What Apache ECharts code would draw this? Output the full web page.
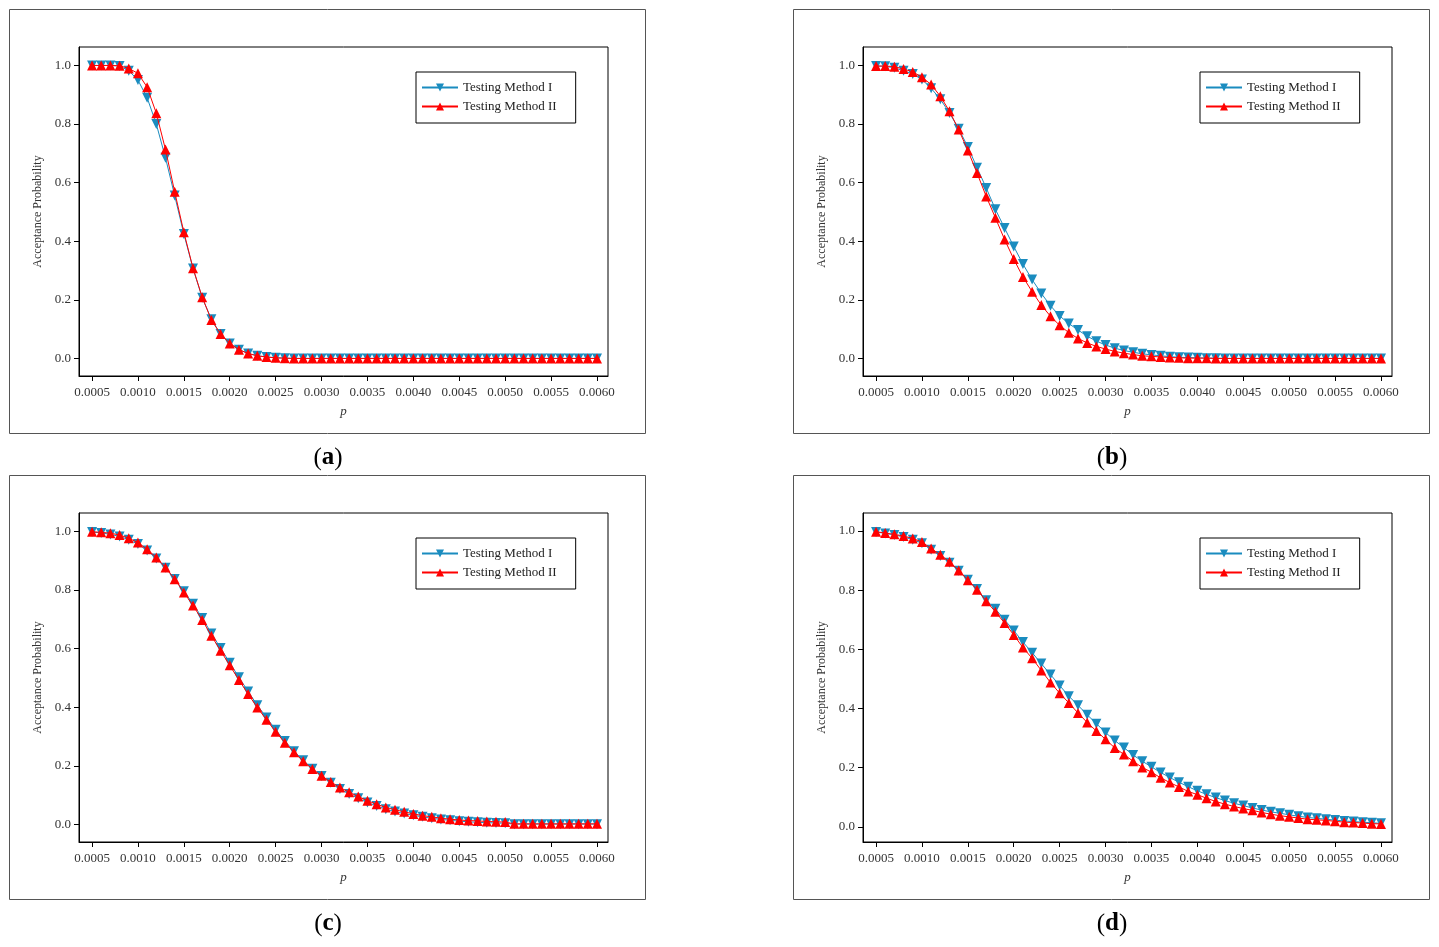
<!DOCTYPE html>
<html>
<head>
<meta charset="utf-8">
<title>Acceptance Probability</title>
<script src="https://cdn.jsdelivr.net/npm/echarts@6/dist/echarts.min.js"></script>
<style>
    html, body {margin: 0; padding: 0; background: #ffffff;}
    #main {width: 1439px; height: 947px;}
</style>
</head>
<body>
<div id="main"></div>
<script>
// p values on the x axis
var pValues = [0.0005, 0.0006, 0.0007, 0.0008, 0.0009, 0.0010, 0.0011, 0.0012, 0.0013, 0.0014,
    0.0015, 0.0016, 0.0017, 0.0018, 0.0019, 0.0020, 0.0021, 0.0022, 0.0023, 0.0024,
    0.0025, 0.0026, 0.0027, 0.0028, 0.0029, 0.0030, 0.0031, 0.0032, 0.0033, 0.0034,
    0.0035, 0.0036, 0.0037, 0.0038, 0.0039, 0.0040, 0.0041, 0.0042, 0.0043, 0.0044,
    0.0045, 0.0046, 0.0047, 0.0048, 0.0049, 0.0050, 0.0051, 0.0052, 0.0053, 0.0054,
    0.0055, 0.0056, 0.0057, 0.0058, 0.0059, 0.0060];

var xTicks = [0.0005, 0.0010, 0.0015, 0.0020, 0.0025, 0.0030, 0.0035, 0.0040, 0.0045, 0.0050, 0.0055, 0.0060];
var yTicks = [0.0, 0.2, 0.4, 0.6, 0.8, 1.0];
var seriesNames = ['Testing Method I', 'Testing Method II'];
var panelLabels = ['a', 'b', 'c', 'd'];

// (a)
var methodIa = [1.000, 1.000, 1.000, 0.998, 0.982, 0.950, 0.890, 0.800, 0.685, 0.556,
    0.425, 0.307, 0.207, 0.134, 0.083, 0.051, 0.030, 0.017, 0.009, 0.005,
    0.002, 0.001, 0, 0, 0, 0, 0, 0, 0, 0,
    0, 0, 0, 0, 0, 0, 0, 0, 0, 0,
    0, 0, 0, 0, 0, 0, 0, 0, 0, 0,
    0, 0, 0, 0, 0, 0];
var methodIIa = [1.000, 1.000, 1.000, 0.999, 0.990, 0.973, 0.926, 0.837, 0.713, 0.569,
    0.431, 0.308, 0.209, 0.131, 0.083, 0.051, 0.030, 0.017, 0.009, 0.005,
    0.002, 0.001, 0, 0, 0, 0, 0, 0, 0, 0,
    0, 0, 0, 0, 0, 0, 0, 0, 0, 0,
    0, 0, 0, 0, 0, 0, 0, 0, 0, 0,
    0, 0, 0, 0, 0, 0];

// (b)
var methodIb = [0.998, 0.997, 0.992, 0.982, 0.971, 0.952, 0.922, 0.885, 0.838, 0.784,
    0.722, 0.651, 0.582, 0.509, 0.445, 0.382, 0.322, 0.269, 0.222, 0.180,
    0.145, 0.119, 0.097, 0.076, 0.059, 0.046, 0.035, 0.027, 0.021, 0.016,
    0.012, 0.009, 0.006, 0.004, 0.003, 0.002, 0.001, 0.001, 0, 0,
    0, 0, 0, 0, 0, 0, 0, 0, 0, 0,
    0, 0, 0, 0, 0, 0];
var methodIIb = [0.998, 0.998, 0.996, 0.988, 0.978, 0.960, 0.935, 0.895, 0.844, 0.781,
    0.710, 0.633, 0.553, 0.480, 0.406, 0.339, 0.278, 0.228, 0.182, 0.144,
    0.113, 0.088, 0.068, 0.053, 0.041, 0.032, 0.024, 0.018, 0.013, 0.009,
    0.007, 0.005, 0.003, 0.002, 0.001, 0.001, 0.001, 0, 0, 0,
    0, 0, 0, 0, 0, 0, 0, 0, 0, 0,
    0, 0, 0, 0, 0, 0];

// (c)
var methodIc = [0.998, 0.995, 0.990, 0.983, 0.972, 0.957, 0.935, 0.908, 0.876, 0.838,
    0.796, 0.753, 0.705, 0.652, 0.602, 0.552, 0.502, 0.454, 0.407, 0.365,
    0.323, 0.285, 0.250, 0.219, 0.190, 0.165, 0.142, 0.121, 0.104, 0.089,
    0.075, 0.063, 0.052, 0.044, 0.037, 0.031, 0.026, 0.021, 0.017, 0.014,
    0.011, 0.009, 0.007, 0.006, 0.005, 0.004, 0.001, 0.001, 0.001, 0.001,
    0.001, 0.001, 0.001, 0.001, 0.001, 0.001];
var methodIIc = [0.999, 0.997, 0.994, 0.988, 0.977, 0.962, 0.939, 0.911, 0.877, 0.837,
    0.792, 0.747, 0.698, 0.644, 0.593, 0.543, 0.493, 0.445, 0.399, 0.357,
    0.316, 0.279, 0.246, 0.216, 0.189, 0.166, 0.145, 0.126, 0.110, 0.095,
    0.081, 0.069, 0.058, 0.050, 0.043, 0.036, 0.030, 0.026, 0.021, 0.018,
    0.015, 0.013, 0.012, 0.010, 0.009, 0.008, 0.002, 0.002, 0.002, 0.002,
    0.002, 0.002, 0.002, 0.002, 0.002, 0.002];

// (d)
var methodId = [0.997, 0.992, 0.987, 0.980, 0.971, 0.959, 0.937, 0.916, 0.893, 0.866,
    0.835, 0.804, 0.766, 0.737, 0.700, 0.664, 0.625, 0.589, 0.552, 0.515,
    0.478, 0.442, 0.411, 0.379, 0.349, 0.319, 0.292, 0.268, 0.243, 0.222,
    0.203, 0.184, 0.167, 0.151, 0.136, 0.122, 0.110, 0.099, 0.089, 0.080,
    0.072, 0.064, 0.057, 0.051, 0.046, 0.041, 0.036, 0.032, 0.029, 0.026,
    0.023, 0.020, 0.018, 0.016, 0.014, 0.012];
var methodIId = [0.998, 0.993, 0.989, 0.983, 0.975, 0.963, 0.941, 0.920, 0.896, 0.867,
    0.834, 0.802, 0.763, 0.727, 0.689, 0.649, 0.606, 0.570, 0.529, 0.488,
    0.452, 0.419, 0.385, 0.353, 0.324, 0.296, 0.267, 0.245, 0.222, 0.201,
    0.185, 0.166, 0.150, 0.135, 0.120, 0.109, 0.097, 0.086, 0.077, 0.069,
    0.062, 0.056, 0.049, 0.043, 0.038, 0.034, 0.030, 0.026, 0.024, 0.022,
    0.019, 0.016, 0.015, 0.013, 0.011, 0.010];

var panelData = [
    [methodIa, methodIIa],
    [methodIb, methodIIb],
    [methodIc, methodIIc],
    [methodId, methodIId]
];

var myChart = echarts.init(document.getElementById('main'));

// layout of the four panels
var panels = [
    {left: 79, top: 47, frameX: 9.5, frameY: 9.5, labelX: 328, labelY: 458, ymin: -0.060, ymax: 1.063},
    {left: 863, top: 47, frameX: 793.5, frameY: 9.5, labelX: 1112, labelY: 458, ymin: -0.060, ymax: 1.063},
    {left: 79, top: 513, frameX: 9.5, frameY: 475.5, labelX: 328, labelY: 924, ymin: -0.060, ymax: 1.063},
    {left: 863, top: 513, frameX: 793.5, frameY: 475.5, labelX: 1112, labelY: 924, ymin: -0.051, ymax: 1.061}
];

var fontName = '"Liberation Serif", "Times New Roman", serif';
var blue = '#1a8cbf';
var red = '#ff0000';

function toPairs(values) {
    return values.map(function (v, i) {
        return [pValues[i], v];
    });
}

var grids = [], xAxes = [], yAxes = [], series = [], legends = [], graphics = [];

panels.forEach(function (pn, k) {
    grids.push({
        left: pn.left, top: pn.top, width: 529, height: 329,
        show: true, borderColor: '#000', borderWidth: 1, backgroundColor: 'transparent'
    });

    xAxes.push({
        type: 'value', gridIndex: k,
        min: 0.000358, max: 0.00612,
        name: 'p', nameLocation: 'middle', nameGap: 29,
        nameTextStyle: {fontFamily: fontName, fontSize: 13, fontStyle: 'italic', color: '#333'},
        axisLine: {show: true, onZero: false, lineStyle: {color: '#000', width: 1}},
        axisTick: {show: true, length: 5, customValues: xTicks, lineStyle: {color: '#000'}},
        axisLabel: {
            customValues: xTicks, margin: 10,
            fontFamily: fontName, fontSize: 13, color: '#333',
            formatter: function (v) { return v.toFixed(4); }
        },
        splitLine: {show: false}
    });

    yAxes.push({
        type: 'value', gridIndex: k,
        min: pn.ymin, max: pn.ymax,
        name: 'Acceptance Probability', nameLocation: 'middle', nameGap: 35, nameRotate: 90,
        nameTextStyle: {fontFamily: fontName, fontSize: 12, color: '#333'},
        axisLine: {show: true, onZero: false, lineStyle: {color: '#000', width: 1}},
        axisTick: {show: true, length: 5, customValues: yTicks, lineStyle: {color: '#000'}},
        axisLabel: {
            customValues: yTicks, margin: 8,
            fontFamily: fontName, fontSize: 13, color: '#333',
            formatter: function (v) { return v.toFixed(1); }
        },
        splitLine: {show: false}
    });

    series.push({
        name: seriesNames[0], type: 'line', xAxisIndex: k, yAxisIndex: k,
        data: toPairs(panelData[k][0]),
        symbol: 'triangle', symbolRotate: 180, symbolSize: 10,
        itemStyle: {color: blue},
        lineStyle: {color: blue, width: 1},
        z: 2, animation: false
    });
    series.push({
        name: seriesNames[1], type: 'line', xAxisIndex: k, yAxisIndex: k,
        data: toPairs(panelData[k][1]),
        symbol: 'triangle', symbolSize: 10,
        itemStyle: {color: red},
        lineStyle: {color: red, width: 1},
        z: 3, animation: false
    });

    legends.push({
        orient: 'vertical',
        left: pn.left + 337, top: pn.top + 25,
        data: seriesNames,
        itemWidth: 36, itemHeight: 10, itemGap: 6,
        padding: [9, 19, 10, 5],
        borderColor: '#000', borderWidth: 1, borderRadius: 0,
        selectedMode: false,
        textStyle: {fontFamily: fontName, fontSize: 13, color: '#222'}
    });

    // outer panel frame
    graphics.push({
        type: 'rect', silent: true,
        shape: {x: pn.frameX, y: pn.frameY, width: 636, height: 424},
        style: {fill: 'none', stroke: '#555', lineWidth: 1}
    });
    // panel label
    graphics.push({
        type: 'text', silent: true,
        x: pn.labelX, y: pn.labelY,
        style: {
            text: '{p|(}{b|' + panelLabels[k] + '}{p|)}',
            align: 'center', verticalAlign: 'middle',
            rich: {
                p: {fontFamily: fontName, fontSize: 25, fill: '#000', color: '#000'},
                b: {fontFamily: fontName, fontSize: 25, fontWeight: 'bold', fill: '#000', color: '#000'}
            }
        }
    });
});

option = {
    backgroundColor: '#ffffff',
    animation: false,
    grid: grids,
    xAxis: xAxes,
    yAxis: yAxes,
    legend: legends,
    series: series,
    graphic: graphics
};

myChart.setOption(option);
window.addEventListener('resize', function () {
    myChart.resize();
});
</script>
</body>
</html>
